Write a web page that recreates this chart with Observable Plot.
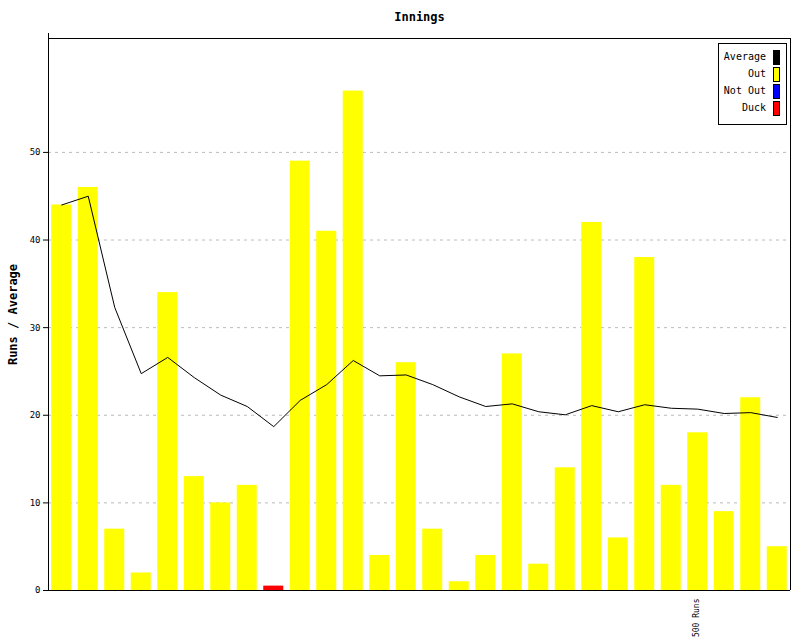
<!DOCTYPE html>
<html>
<head>
<meta charset="utf-8">
<script src="https://cdn.jsdelivr.net/npm/d3@7"></script>
<script src="https://cdn.jsdelivr.net/npm/@observablehq/plot@0.6"></script>
<style>
  html, body { margin: 0; padding: 0; background: #fff; }
  #chart svg { font-family: "DejaVu Sans Mono", monospace; }
</style>
</head>
<body>
<div id="chart"></div>
<script>
// Runs per innings (0 = duck)
const runs = [44, 46, 7, 2, 34, 13, 10, 12, 0, 49, 41, 57, 4, 26, 7, 1, 4, 27, 3, 14, 42, 6, 38, 12, 18, 9, 22, 5];
// Dismissal type per innings
const types = ["Out","Out","Out","Out","Out","Out","Out","Out","Duck","Out","Out","Out","Out","Out","Out","Out","Out","Out","Out","Out","Out","Out","Out","Out","Out","Out","Out","Out"];
// Running average after each innings
const averages = [44, 45, 32.3, 24.75, 26.6, 24.3, 22.3, 21, 18.7, 21.7, 23.5, 26.25, 24.5, 24.6, 23.5, 22.1, 21, 21.3, 20.4, 20.05, 21.1, 20.4, 21.2, 20.8, 20.7, 20.2, 20.3, 19.75];
// Milestone labels on the x axis
const milestoneIndex = [24];
const milestoneLabels = ["500 Runs"];
// Legend
const legendLabels = ["Average", "Out", "Not Out", "Duck"];
const legendColors = ["#000000", "#ffff00", "#0000ff", "#ff0000"];
const yTicks = [0, 10, 20, 30, 40, 50];

const idx = runs.map((_, i) => i);
const data = idx.map(i => ({i, runs: runs[i], type: types[i], avg: averages[i]}));
const milestones = milestoneIndex.map((i, k) => ({i, label: milestoneLabels[k]}));

const W = 800, H = 640, mL = 48, mR = 10, mT = 38, mB = 50;

const plot = Plot.plot({
  width: W, height: H,
  marginLeft: mL, marginRight: mR, marginTop: mT, marginBottom: mB,
  style: {fontFamily: "DejaVu Sans Mono, monospace", fontSize: "9px", background: "#fff", color: "#000", overflow: "visible"},
  x: {type: "band", domain: idx, paddingInner: 0.245, paddingOuter: 0.1225, round: false, axis: null},
  y: {domain: [0, 63]},
  marks: [
    Plot.gridY([10, 20, 30, 40, 50], {stroke: "#bbbbbb", strokeOpacity: 1, strokeDasharray: "3,4"}),
    Plot.barY(data, {x: "i", y: d => d.runs === 0 ? 0.5 : d.runs, fill: d => legendColors[legendLabels.indexOf(d.type)]}),
    Plot.line(data, {x: "i", y: "avg", stroke: "#000", strokeWidth: 1}),
    Plot.axisY(yTicks, {tickSize: 5, tickPadding: 3, label: "Runs / Average", labelAnchor: "center", labelArrow: "none", labelOffset: 40, fontSize: 9}),
    Plot.text(milestones, {x: "i", text: "label", frameAnchor: "bottom", dy: 8, dx: 1, rotate: -90, textAnchor: "end", fontSize: 8}),
    Plot.text(["Innings"], {frameAnchor: "top", lineAnchor: "middle", dy: -21, fontWeight: "bold", fontSize: 12})
  ]
});

const svg = d3.select(plot);
// label styling
svg.selectAll('g[aria-label="y-axis label"] text').style("font-weight", "bold").style("font-size", "12px");

// frame/axes lines
const g = svg.append("g").attr("stroke", "#000").attr("fill", "none").attr("shape-rendering", "crispEdges");
g.append("line").attr("x1", mL).attr("x2", mL).attr("y1", mT - 5).attr("y2", H - mB);          // left axis
g.append("line").attr("x1", mL - 5).attr("x2", W - mR).attr("y1", H - mB).attr("y2", H - mB);   // bottom axis
g.append("line").attr("x1", mL).attr("x2", W - mR).attr("y1", mT).attr("y2", mT);              // top
g.append("line").attr("x1", W - mR).attr("x2", W - mR).attr("y1", mT).attr("y2", H - mB);       // right

// legend
const lx = 718, ly = 43, lw = 68, lh = 81;
const lg = svg.append("g");
lg.append("rect").attr("x", lx + 0.5).attr("y", ly + 0.5).attr("width", lw).attr("height", lh)
  .attr("fill", "#fff").attr("stroke", "#000");
legendLabels.forEach((lab, k) => {
  const cy = ly + 14 + k * 17;
  lg.append("text").attr("x", lx + 48).attr("y", cy).attr("text-anchor", "end")
    .attr("dominant-baseline", "middle").attr("font-size", 10).attr("fill", "#000").text(lab);
  lg.append("rect").attr("x", lx + 55.5).attr("y", cy - 6.5).attr("width", 6).attr("height", 14)
    .attr("fill", legendColors[k]).attr("stroke", "#000");
});

document.getElementById("chart").appendChild(plot);
</script>
</body>
</html>
